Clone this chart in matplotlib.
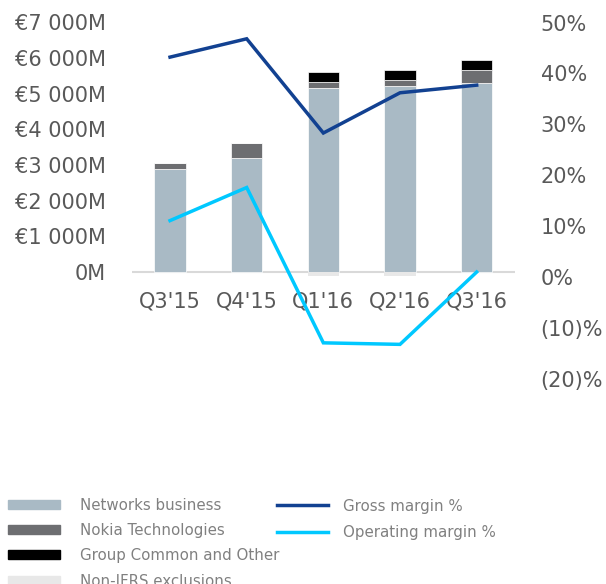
import numpy as np
import matplotlib
matplotlib.use("Agg")
import matplotlib.pyplot as plt
import matplotlib.patches as mpatches
import matplotlib.lines as mlines

quarters = ["Q3'15", "Q4'15", "Q1'16", "Q2'16", "Q3'16"]
networks = [2880, 3210, 5170, 5220, 5290]
technologies = [170, 400, 170, 170, 380]
group_common = [0, 0, 270, 280, 280]
exclusions = [0, 0, -110, -110, 0]
gross_margin = [43.2, 46.8, 28.3, 36.2, 37.7]
operating_margin = [11.1, 17.6, -12.9, -13.2, 1.0]

left_ticks = [0, 1000, 2000, 3000, 4000, 5000, 6000, 7000]
left_labels = ["0M", "€1 000M", "€2 000M", "€3 000M", "€4 000M",
               "€5 000M", "€6 000M", "€7 000M"]
right_ticks = [-20, -10, 0, 10, 20, 30, 40, 50]
right_labels = ["(20)%", "(10)%", "0%", "10%", "20%", "30%", "40%", "50%"]

c_net = '#a9bac5'
c_tech = '#6d6e71'
c_group = '#000000'
c_excl = '#e8e8e8'
c_gross = '#124191'
c_oper = '#00c8ff'
c_text = '#595959'
c_leg = '#808080'

W, H = 606, 584
fig = plt.figure(figsize=(W / 100, H / 100), dpi=100)
ax = fig.add_axes([131.7 / W, (H - 379) / H, 383.3 / W, 356.5 / H])
ax2 = ax.twinx()

x = np.arange(len(quarters))
bw = 0.41
net = np.array(networks)
tech = np.array(technologies)
ax.axhline(0, color='#d9d9d9', lw=1.5, zorder=0.5)
ax.bar(x, networks, bw, color=c_net, edgecolor='white', lw=0.5, zorder=2)
ax.bar(x, technologies, bw, bottom=net, color=c_tech, edgecolor='white',
       lw=0.5, zorder=2)
ax.bar(x, group_common, bw, bottom=net + tech, color=c_group,
       edgecolor='white', lw=0.5, zorder=2)
ax.bar(x, exclusions, bw, color=c_excl, lw=0, zorder=2)

ax2.plot(x, gross_margin, color=c_gross, lw=2.5, solid_joinstyle='miter')
ax2.plot(x, operating_margin, color=c_oper, lw=2.5, solid_joinstyle='miter')

ax.set_xlim(-0.5, len(quarters) - 0.5)
ax.set_ylim(-3000, 7000)
ax2.set_ylim(-20, 50)

ax.set_yticks(left_ticks)
ax.set_yticklabels(left_labels)
ax2.set_yticks(right_ticks)
ax2.set_yticklabels(right_labels)
ax.set_xticks(x)
ax.set_xticklabels(quarters)
ax.spines['bottom'].set_position(('data', 0))

for a in (ax, ax2):
    for s in a.spines.values():
        s.set_visible(False)
ax.tick_params(axis='y', length=0, pad=18.5, labelsize=15, labelcolor=c_text)
ax2.tick_params(axis='y', length=0, pad=18.5, labelsize=15, labelcolor=c_text)
ax.tick_params(axis='x', length=0, pad=14, labelsize=15, labelcolor=c_text)

bar_handles = [mpatches.Patch(color=c_net), mpatches.Patch(color=c_tech),
               mpatches.Patch(color=c_group), mpatches.Patch(color=c_excl)]
bar_names = ["Networks business", "Nokia Technologies",
             "Group Common and Other", "Non-IFRS exclusions"]
leg1 = fig.legend(bar_handles, bar_names, loc='upper left',
                  bbox_to_anchor=(8 / W, 1 - 497.5 / H), frameon=False,
                  fontsize=10.8, handlelength=3.47, handleheight=0.55,
                  handletextpad=1.33, labelspacing=0.69, borderpad=0,
                  borderaxespad=0)
for t in leg1.get_texts():
    t.set_color(c_leg)

line_handles = [mlines.Line2D([], [], color=c_gross, lw=2.5),
                mlines.Line2D([], [], color=c_oper, lw=2.5)]
line_names = ["Gross margin %", "Operating margin %"]
leg2 = fig.legend(line_handles, line_names, loc='upper left',
                  bbox_to_anchor=(277 / W, 1 - 498.5 / H), frameon=False,
                  fontsize=10.8, handlelength=3.4, handletextpad=1.0,
                  labelspacing=0.8, borderpad=0, borderaxespad=0)
for t in leg2.get_texts():
    t.set_color(c_leg)

fig.savefig("out.png", dpi=100)
